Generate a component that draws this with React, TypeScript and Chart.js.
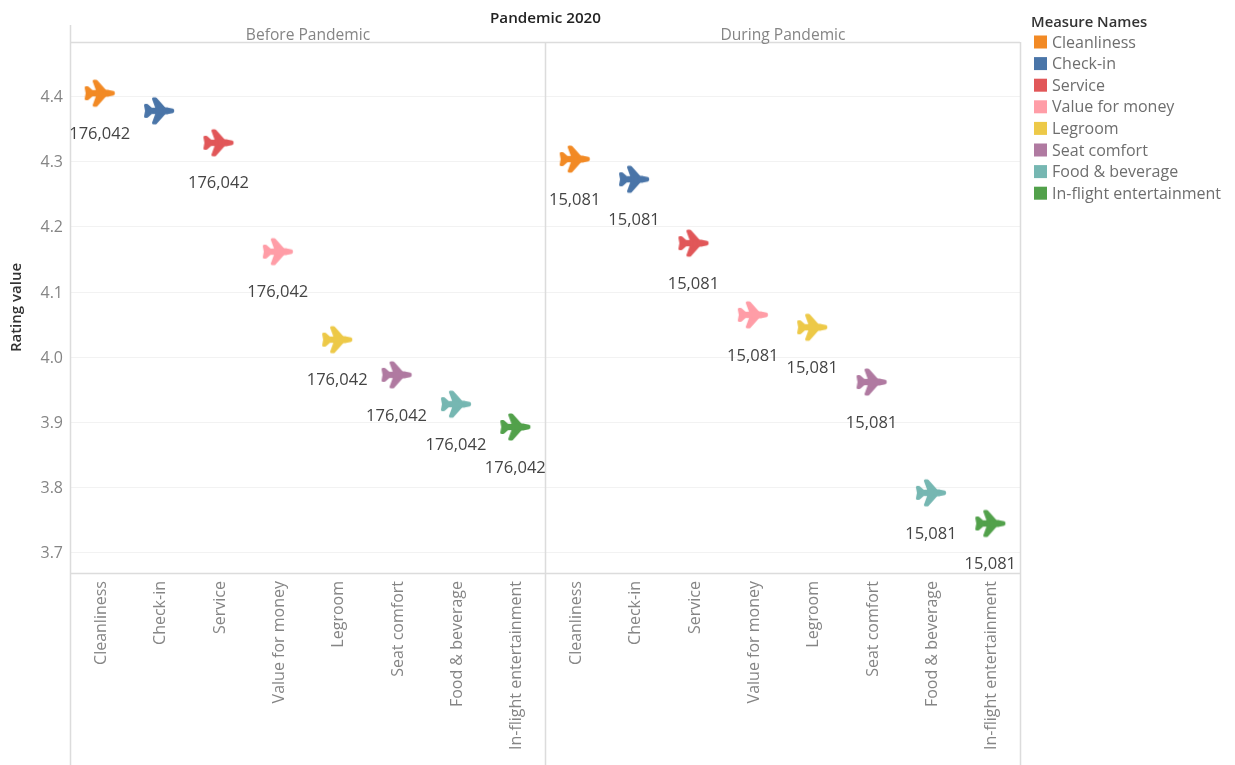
import React, { useEffect, useRef } from "react";
import { Chart, registerables } from "chart.js";

Chart.register(...registerables);

// Rating measures, in display order
const categories = [
  "Cleanliness",
  "Check-in",
  "Service",
  "Value for money",
  "Legroom",
  "Seat comfort",
  "Food & beverage",
  "In-flight entertainment",
];
const colors = ["#F28A25", "#4A75A8", "#E15759", "#FF9DA7", "#EDC948", "#B07AA1", "#76B7B2", "#52A14B"];

const beforeRatings = [4.405, 4.378, 4.329, 4.162, 4.027, 3.973, 3.928, 3.893];
const duringRatings = [4.304, 4.273, 4.175, 4.065, 4.046, 3.962, 3.792, 3.745];

// Review counts printed under the marks; the Check-in label is absent before the pandemic
const beforeCounts = ["176,042", null, "176,042", "176,042", "176,042", "176,042", "176,042", "176,042"];
const duringCounts = ["15,081", "15,081", "15,081", "15,081", "15,081", "15,081", "15,081", "15,081"];

const yTicks = [3.7, 3.8, 3.9, 4.0, 4.1, 4.2, 4.3, 4.4];
const panelTitles = ["Before Pandemic", "During Pandemic"];
const chartTitle = "Pandemic 2020";
const legendTitle = "Measure Names";
const yTitle = "Rating value";

const FONT = '"Open Sans", sans-serif';

// Airplane marker, nose pointing right
function planeIcon(color: string): HTMLCanvasElement {
  const c = document.createElement("canvas");
  c.width = 36;
  c.height = 32;
  const g = c.getContext("2d")!;
  g.translate(2.5, 2.5);
  g.fillStyle = color;
  g.strokeStyle = color;
  g.lineJoin = "round";
  g.lineCap = "round";
  g.lineWidth = 3;
  const shape = (pts: number[][]) => {
    g.beginPath();
    pts.forEach(([x, y], i) => (i ? g.lineTo(x, y) : g.moveTo(x, y)));
    g.closePath();
    g.fill();
    g.stroke();
  };
  // fuselage
  shape([[3, 12], [24, 11.6], [29, 12.8], [29.2, 13.5], [29, 14.2], [24, 15.4], [3, 15]]);
  // wings
  shape([[10, 1.5], [12, 1.5], [20.5, 11], [20.5, 16], [12, 25.5], [10, 25.5], [13.5, 16], [13.5, 11]]);
  // tail fins
  shape([[2, 8], [3.5, 8], [8, 12], [8, 15], [3.5, 19], [2, 19], [3, 13.5]]);
  return c;
}

const frameAndText = {
  id: "frameAndText",
  beforeDatasetsDraw(chart: any) {
    const { ctx, chartArea: a, height } = chart;
    const mid = (a.left + a.right) / 2;
    ctx.save();
    ctx.strokeStyle = "#DCDCDC";
    ctx.lineWidth = 1.5;
    const line = (x1: number, y1: number, x2: number, y2: number) => {
      ctx.beginPath();
      ctx.moveTo(x1, y1);
      ctx.lineTo(x2, y2);
      ctx.stroke();
    };
    line(a.left + 0.5, 25, a.left + 0.5, height);
    line(mid + 0.5, a.top, mid + 0.5, height);
    line(a.right + 0.5, a.top, a.right + 0.5, height);
    line(a.left, a.top + 0.5, a.right, a.top + 0.5);
    line(a.left, a.bottom + 0.5, a.right, a.bottom + 0.5);

    ctx.textAlign = "center";
    ctx.textBaseline = "alphabetic";
    ctx.fillStyle = "#222";
    ctx.font = `600 15.2px ${FONT}`;
    ctx.fillText(chartTitle, mid + 0.5, 23);

    ctx.fillStyle = "#858585";
    ctx.font = `15.6px ${FONT}`;
    ctx.fillText(panelTitles[0], (a.left + mid) / 2 + 0.5, 40);
    ctx.fillText(panelTitles[1], (mid + a.right) / 2 + 0.5, 40);

    // Legend block beside the panels
    ctx.textAlign = "left";
    ctx.fillStyle = "#333";
    ctx.font = `600 14.8px ${FONT}`;
    ctx.fillText(legendTitle, 1031, 27);
    ctx.font = `16px ${FONT}`;
    categories.forEach((name, i) => {
      const y = 42 + i * 21.6;
      ctx.fillStyle = colors[i];
      ctx.fillRect(1034, y - 6.5, 13, 13);
      ctx.fillStyle = "#6E6E6E";
      ctx.textBaseline = "middle";
      ctx.fillText(name, 1052, y + 1);
    });
    ctx.restore();
  },
  afterDatasetsDraw(chart: any) {
    const { ctx } = chart;
    ctx.save();
    ctx.fillStyle = "#444";
    ctx.font = `16.5px ${FONT}`;
    ctx.textAlign = "center";
    ctx.textBaseline = "middle";
    chart.data.datasets.forEach((ds: any, d: number) => {
      const meta = chart.getDatasetMeta(d);
      [d, d + categories.length].forEach((idx, panel) => {
        const text = (panel ? duringCounts : beforeCounts)[d];
        const pt = meta.data[idx];
        if (text && pt) ctx.fillText(text, pt.x, pt.y + 41);
      });
    });
    ctx.restore();
  },
};

export default function App() {
  const ref = useRef<HTMLCanvasElement>(null);

  useEffect(() => {
    const labels = [...categories, ...categories];
    const chart = new Chart(ref.current!, {
      type: "line",
      data: {
        labels,
        datasets: categories.map((name, i) => ({
          label: name,
          data: labels.map((_, k) =>
            k === i ? beforeRatings[i] : k === i + categories.length ? duringRatings[i] : null
          ),
          showLine: false,
          pointStyle: planeIcon(colors[i]),
          borderColor: colors[i],
          backgroundColor: colors[i],
        })),
      } as any,
      options: {
        responsive: false,
        animation: false,
        layout: { padding: { top: 42, right: 215, bottom: 0, left: 0 } },
        plugins: { legend: { display: false }, title: { display: false }, tooltip: { enabled: false } },
        scales: {
          x: {
            type: "category",
            offset: true,
            grid: { display: false },
            border: { display: false },
            afterFit: (s: any) => {
              s.height = 192;
            },
            ticks: {
              autoSkip: false,
              minRotation: 90,
              maxRotation: 90,
              padding: 0,
              labelOffset: 1.5,
              color: "#858585",
              font: { family: FONT, size: 16 },
            },
          },
          y: {
            type: "linear",
            min: 3.669,
            max: 4.4836,
            afterBuildTicks: (s: any) => {
              s.ticks = yTicks.map((value) => ({ value }));
            },
            afterFit: (s: any) => {
              s.width = 70;
            },
            grid: { color: "#F2F2F2", lineWidth: 1, drawTicks: false },
            border: { display: false },
            ticks: {
              padding: 7,
              labelOffset: 1,
              color: "#858585",
              font: { family: FONT, size: 16 },
              callback: (v: any) => Number(v).toFixed(1),
            },
            title: {
              display: true,
              text: yTitle,
              color: "#333",
              font: { family: FONT, size: 15, weight: "600" },
              padding: { top: 8, bottom: 0 },
            },
          },
        },
      } as any,
      plugins: [frameAndText],
    });
    return () => chart.destroy();
  }, []);

  return (
    <canvas
      ref={ref}
      width={1235}
      height={765}
      style={{ position: "absolute", left: 0, top: 0, background: "#fff" }}
    />
  );
}
